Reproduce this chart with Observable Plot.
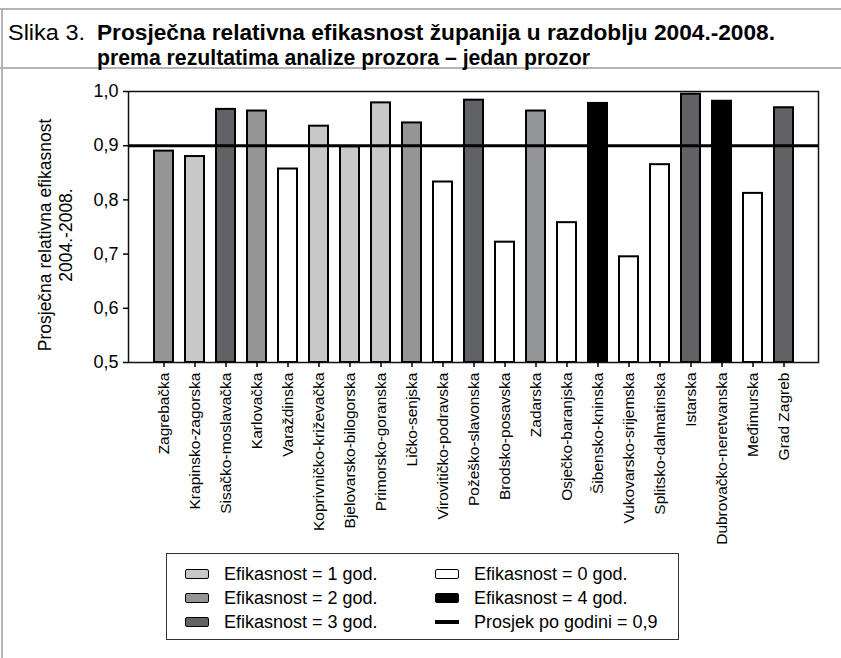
<!DOCTYPE html>
<html><head><meta charset="utf-8">
<script src="https://cdn.jsdelivr.net/npm/d3@7"></script>
<script src="https://cdn.jsdelivr.net/npm/@observablehq/plot@0.6"></script>
<style>
body{margin:0;width:841px;height:658px;position:relative;background:#fff;font-family:"Liberation Sans",Arial,sans-serif;overflow:hidden;color:#000}
.gb{position:absolute;background:#b4b4b8}
.tt{position:absolute;white-space:nowrap;font-size:22px;line-height:22px;font-family:"Liberation Sans",Arial,sans-serif;transform-origin:0 0}
#chart{position:absolute;left:0;top:70px}
#legend{position:absolute;left:166px;top:553px;width:513px;height:87px;border:1.5px solid #333;box-sizing:border-box;font-size:18px}
.item{position:absolute;display:flex;align-items:center;white-space:nowrap;height:20px}
.sw{width:22px;height:8px;border:1.6px solid #000;border-radius:2px;box-sizing:content-box;position:absolute;left:0}
.ln{width:24px;height:4px;background:#000;position:absolute;left:0}
.item span{position:absolute;white-space:nowrap}
</style></head><body>
<div class="gb" style="left:0;top:8px;width:841px;height:2px"></div>
<div class="gb" style="left:0;top:67px;width:841px;height:2px"></div>
<div class="gb" style="left:1px;top:8px;width:2px;height:650px"></div>
<div class="tt" id="t0" style="left:8px;top:22px" data-w="77">Slika 3.</div>
<div class="tt" id="t1" style="left:97px;top:22px;font-weight:bold" data-w="678">Prosječna relativna efikasnost županija u razdoblju 2004.-2008.</div>
<div class="tt" id="t2" style="left:97px;top:47px;font-weight:bold" data-w="493">prema rezultatima analize prozora – jedan prozor</div>
<div id="chart"></div>
<div id="legend"></div>
<script>
const counties = ["Zagrebačka","Krapinsko-zagorska","Sisačko-moslavačka","Karlovačka","Varaždinska","Koprivničko-križevačka","Bjelovarsko-bilogorska","Primorsko-goranska","Ličko-senjska","Virovitičko-podravska","Požeško-slavonska","Brodsko-posavska","Zadarska","Osječko-baranjska","Šibensko-kninska","Vukovarsko-srijemska","Splitsko-dalmatinska","Istarska","Dubrovačko-neretvanska","Međimurska","Grad Zagreb"];
const values = [0.890,0.880,0.967,0.964,0.857,0.936,0.898,0.979,0.942,0.833,0.984,0.722,0.964,0.758,0.978,0.695,0.865,0.995,0.982,0.812,0.970];
const years = [2,1,3,2,0,1,1,1,2,0,3,0,2,0,4,0,0,3,4,0,3];
const yTicks = [0.5,0.6,0.7,0.8,0.9,1.0];
const average = 0.9;
const yearDomain = [1,2,3,0,4];
const yearColors = ["#c8c8ca","#949597","#616265","#ffffff","#000000"];
const legendLabels = ["Efikasnost = 1 god.","Efikasnost = 2 god.","Efikasnost = 3 god.","Efikasnost = 0 god.","Efikasnost = 4 god."];
const averageLabel = "Prosjek po godini = 0,9";
const yLabel = "Prosječna relativna efikasnost\n2004.-2008.";

// fit title lines to the reference widths
document.querySelectorAll(".tt").forEach(el => {
  const w = el.getBoundingClientRect().width;
  el.style.transform = `scaleX(${(+el.dataset.w)/w})`;
});

const data = counties.map((c,i)=>({county:c, value:values[i], years:years[i]}));
const fmt = d => d.toFixed(1).replace(".", ",");

const plot = Plot.plot({
  width: 841, height: 480,
  marginLeft: 128, marginRight: 23, marginTop: 21, marginBottom: 188,
  style: {fontFamily: '"Liberation Sans", Arial, sans-serif', fontSize: "14px", color: "#000", background: "transparent", overflow: "visible"},
  x: {domain: counties, paddingInner: 0.4, paddingOuter: 0.72, label: null},
  y: {domain: [yTicks[0], yTicks[yTicks.length-1]], label: null},
  color: {type: "ordinal", domain: yearDomain, range: yearColors},
  marks: [
    Plot.barY(data, {x: "county", y1: () => yTicks[0], y2: "value", fill: "years", stroke: "#000", strokeWidth: 2}),
    Plot.ruleY([average], {stroke: "#000", strokeWidth: 3}),
    Plot.frame({stroke: "#111", strokeWidth: 1.5}),
    Plot.axisX({tickRotate: -90, tickSize: 5, tickPadding: 5, fontSize: 15.5, stroke: "#000", strokeWidth: 1.5, label: null}),
    Plot.axisY({ticks: yTicks, tickFormat: fmt, tickSize: 5, tickPadding: 5, fontSize: 18, stroke: "#000", strokeWidth: 1.5, label: null}),
    Plot.text([yLabel], {frameAnchor: "left", rotate: -90, dx: -74, dy: 8, fontSize: 17.5, lineHeight: 1.25, textAnchor: "middle", lineAnchor: "middle", fill: "#000"})
  ]
});
document.getElementById("chart").appendChild(plot);

const legend = document.getElementById("legend");
const rows = [20, 44, 68];
const cols = [[18,57],[268,307]];
const place = [[0,0],[0,1],[0,2],[1,0],[1,1]];
legendLabels.forEach((t,i)=>{
  const [c,r] = place[i];
  const it = document.createElement("div");
  it.className = "item";
  it.style.left = "0px"; it.style.top = (rows[r]-10)+"px";
  const sw = document.createElement("div"); sw.className = "sw"; sw.style.background = yearColors[i];
  sw.style.left = cols[c][0]+"px";
  const tx = document.createElement("span"); tx.textContent = t; tx.style.left = cols[c][1]+"px";
  it.appendChild(sw); it.appendChild(tx); legend.appendChild(it);
});
{
  const it = document.createElement("div"); it.className = "item";
  it.style.left = "0px"; it.style.top = (rows[2]-10)+"px";
  const ln = document.createElement("div"); ln.className = "ln"; ln.style.left = "268px";
  const tx = document.createElement("span"); tx.textContent = averageLabel; tx.style.left = cols[1][1]+"px";
  it.appendChild(ln); it.appendChild(tx); legend.appendChild(it);
}
</script>
</body></html>
